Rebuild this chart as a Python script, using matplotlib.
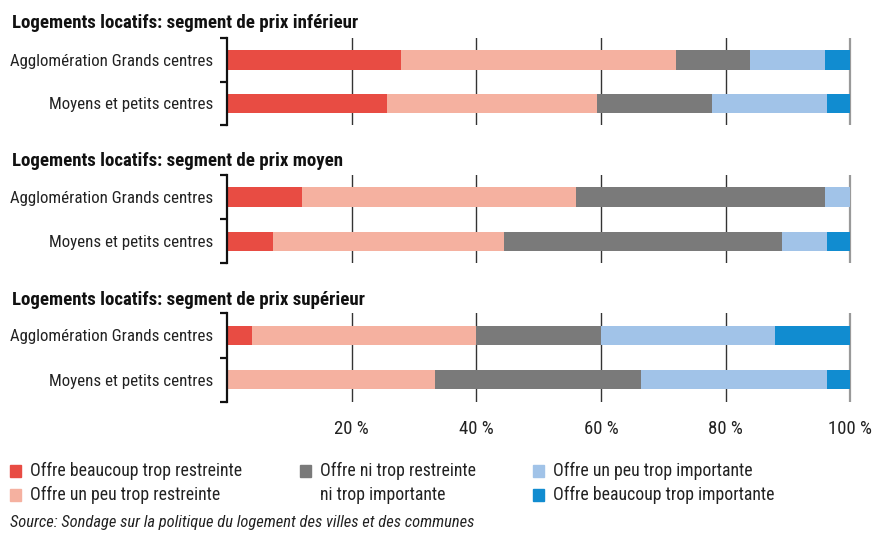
import matplotlib
matplotlib.use("Agg")
import matplotlib.pyplot as plt
from matplotlib.patches import Rectangle

plt.rcParams['font.family'] = ['Roboto Condensed', 'Roboto', 'DejaVu Sans']

# data (% of answers), one list per price segment, rows = region types
rows = ["Agglomération Grands centres", "Moyens et petits centres"]
titles = [
    "Logements locatifs: segment de prix inférieur",
    "Logements locatifs: segment de prix moyen",
    "Logements locatifs: segment de prix supérieur",
]
categories = [
    "Offre beaucoup trop restreinte",
    "Offre un peu trop restreinte",
    "Offre ni trop restreinte\nni trop importante",
    "Offre un peu trop importante",
    "Offre beaucoup trop importante",
]
colors = ["#E84C43", "#F5B1A0", "#7A7A7A", "#A1C3E8", "#118CD0"]

# columns follow categories
inferieur = [[28.0, 44.0, 12.0, 12.0, 4.0],
             [25.7, 33.6, 18.5, 18.4, 3.8]]
moyen = [[12.0, 44.0, 40.0, 4.0, 0.0],
         [7.4, 37.0, 44.6, 7.2, 3.8]]
superieur = [[4.0, 36.0, 20.0, 28.0, 12.0],
             [0.0, 33.3, 33.2, 29.7, 3.8]]
panels = [inferieur, moyen, superieur]

xticks = [20, 40, 60, 80, 100]
xticklabels = ["20 %", "40 %", "60 %", "80 %", "100 %"]

W, H = 875, 535
fig = plt.figure(figsize=(W / 100, H / 100), dpi=100)

# axes boxes in pixels: (top, bottom)
boxes = [(38.3, 125.0), (175.0, 263.3), (313.3, 401.7)]
title_base = [28.3, 166.0, 305.0]
x0, x1 = 227.0, 852.7

for i, data in enumerate(panels):
    top, bot = boxes[i]
    ax = fig.add_axes([x0 / W, 1 - bot / H, (x1 - x0) / W, (bot - top) / H])
    for r, vals in enumerate(data):
        left = 0.0
        for c, v in enumerate(vals):
            if v > 0:
                ax.barh(r, v, left=left, height=0.44, color=colors[c], zorder=2)
            left += v
    for t in xticks:
        ax.axvline(t, color="#999999" if t == 100 else "#333333",
                   lw=1.6 if t == 100 else 1.0, zorder=1)
    ax.set_xlim(0, 100.4)
    ax.set_ylim(1.5, -0.5)

    for s in ["top", "right", "bottom"]:
        ax.spines[s].set_visible(False)
    ax.spines["left"].set_linewidth(1.6)
    ax.spines["left"].set_color("#111111")

    ax.set_yticks([0, 1])
    ax.set_yticklabels(rows, fontsize=12.2, color="#222222")
    ax.set_yticks([-0.5, 0.5, 1.5], minor=True)
    ax.tick_params(axis="y", which="major", length=0, pad=10)
    ax.tick_params(axis="y", which="minor", length=5, width=1.6, color="#111111")

    ax.set_xticks(xticks)
    if i == 2:
        ax.set_xticklabels(xticklabels, fontsize=13.5, color="#222222")
    else:
        ax.set_xticklabels([])
    ax.tick_params(axis="x", length=0, pad=13)

    fig.text(12 / W, 1 - title_base[i] / H, titles[i], fontsize=13.6,
             fontweight="bold", color="#111111", va="baseline", ha="left")

# legend, placed by hand in three columns
leg_pos = [(10, 471), (10, 495), (300, 471), (533, 471), (533, 495)]
for (px, py), lab, col in zip(leg_pos, categories, colors):
    fig.patches.append(Rectangle((px / W, 1 - (py + 6) / H), 11 / W, 12 / H,
                                 transform=fig.transFigure, color=col))
    for k, line in enumerate(lab.split("\n")):
        fig.text((px + 20) / W, 1 - (py + 24 * k) / H, line, fontsize=12.8,
                 color="#222222", va="center", ha="left")

fig.text(10 / W, 1 - 522 / H,
         "Source: Sondage sur la politique du logement des villes et des communes",
         fontsize=11.9, style="italic", color="#222222", va="center", ha="left")

fig.savefig("out.png", dpi=100)
